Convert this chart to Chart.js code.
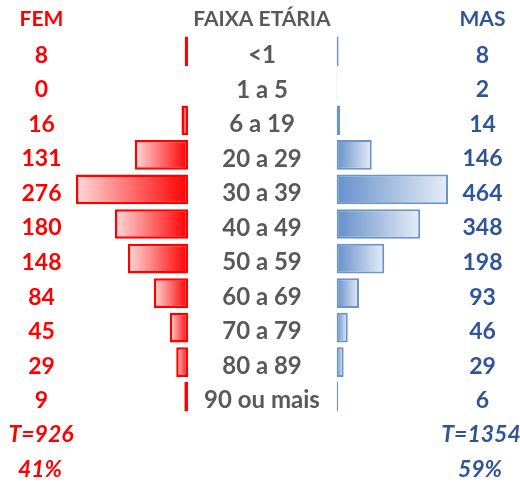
<!DOCTYPE html>
<html>
<head>
<meta charset="utf-8">
<script src="https://cdn.jsdelivr.net/npm/chart.js@4/dist/chart.umd.min.js"></script>
<style>
html,body{margin:0;padding:0;background:#fff;}
#wrap{position:relative;width:520px;height:483px;}
</style>
</head>
<body>
<div id="wrap"><canvas id="c" width="520" height="483"></canvas></div>
<script>
const categories = ['<1','1 a 5','6 a 19','20 a 29','30 a 39','40 a 49','50 a 59','60 a 69','70 a 79','80 a 89','90 ou mais'];
const femValues = [8,0,16,131,276,180,148,84,45,29,9];
const masValues = [8,2,14,146,464,348,198,93,46,29,6];
const headers = {fem:'FEM', mid:'FAIXA ETÁRIA', mas:'MAS'};

const RED = '#ff0000', BLUE_TXT = '#2f5597', GRAY = '#595959';
const FONT = 'Lato, "Liberation Sans", sans-serif';

function gradFor(ctx, axisId, value, c0, c1) {
  const chart = ctx.chart;
  if (!chart.chartArea) return c1;
  const sc = chart.scales[axisId];
  const p0 = sc.getPixelForValue(0), p1 = sc.getPixelForValue(value);
  if (Math.abs(p1 - p0) < 0.5) return c1;
  const g = chart.ctx.createLinearGradient(Math.min(p0,p1), 0, Math.max(p0,p1), 0);
  g.addColorStop(0, c0); g.addColorStop(1, c1);
  return g;
}

const textPlugin = {
  id: 'texts',
  afterDatasetsDraw(chart) {
    const ctx = chart.ctx, y = chart.scales.y;
    ctx.save();
    ctx.textAlign = 'center';
    ctx.textBaseline = 'middle';
    ctx.font = 'bold 21px ' + FONT;
    ctx.fillStyle = RED; ctx.fillText(headers.fem, 41.5, 19);
    ctx.fillStyle = GRAY; ctx.fillText(headers.mid, 262, 19);
    ctx.fillStyle = BLUE_TXT; ctx.fillText(headers.mas, 482.5, 19);
    categories.forEach((c, i) => {
      const py = y.getPixelForValue(i) + 4;
      ctx.font = 'bold 23px ' + FONT;
      ctx.fillStyle = RED; ctx.fillText(String(femValues[i]), 41.5, py);
      ctx.fillStyle = BLUE_TXT; ctx.fillText(String(masValues[i]), 482.5, py);
      ctx.font = 'bold 24px ' + FONT;
      ctx.fillStyle = GRAY; ctx.fillText(c, 262, py);
    });
    const tf = femValues.reduce((a,b)=>a+b,0), tm = masValues.reduce((a,b)=>a+b,0);
    ctx.font = 'italic bold 23px ' + FONT;
    ctx.fillStyle = RED;
    ctx.fillText('T=' + tf, 41, 435);
    ctx.fillText(Math.round(tf/(tf+tm)*100) + '%', 40, 469.5);
    ctx.fillStyle = BLUE_TXT;
    ctx.fillText('T=' + tm, 481, 435);
    ctx.fillText(Math.round(tm/(tf+tm)*100) + '%', 480, 469.5);
    ctx.restore();
  }
};

new Chart(document.getElementById('c'), {
  type: 'bar',
  data: {
    labels: categories,
    datasets: [
      {
        label: 'FEM', data: femValues, xAxisID: 'xL', grouped: false,
        borderColor: RED, borderWidth: 2.5, borderSkipped: false,
        backgroundColor: ctx => gradFor(ctx, 'xL', femValues[ctx.dataIndex], '#ffdada', '#ff0000'),
        barPercentage: 0.86, categoryPercentage: 1
      },
      {
        label: 'MAS', data: masValues, xAxisID: 'xR', grouped: false,
        borderColor: '#6b93cc', borderWidth: 2, borderSkipped: false,
        backgroundColor: ctx => gradFor(ctx, 'xR', masValues[ctx.dataIndex], '#6690ca', '#e6edf7'),
        barPercentage: 0.86, categoryPercentage: 1
      }
    ]
  },
  options: {
    indexAxis: 'y',
    responsive: false,
    animation: false,
    events: [],
    layout: { padding: { top: 34, bottom: 69, left: 0, right: 0 } },
    plugins: { legend: { display: false }, tooltip: { enabled: false } },
    scales: {
      y: { type: 'category', display: false, offset: true, grid: { display: false } },
      xL: { type: 'linear', display: false, reverse: true, min: -818.2, max: 463.3, grid: { display: false } },
      xR: { type: 'linear', display: false, min: -1403.6, max: 764.1, grid: { display: false } }
    }
  },
  plugins: [textPlugin]
});
</script>
</body>
</html>
